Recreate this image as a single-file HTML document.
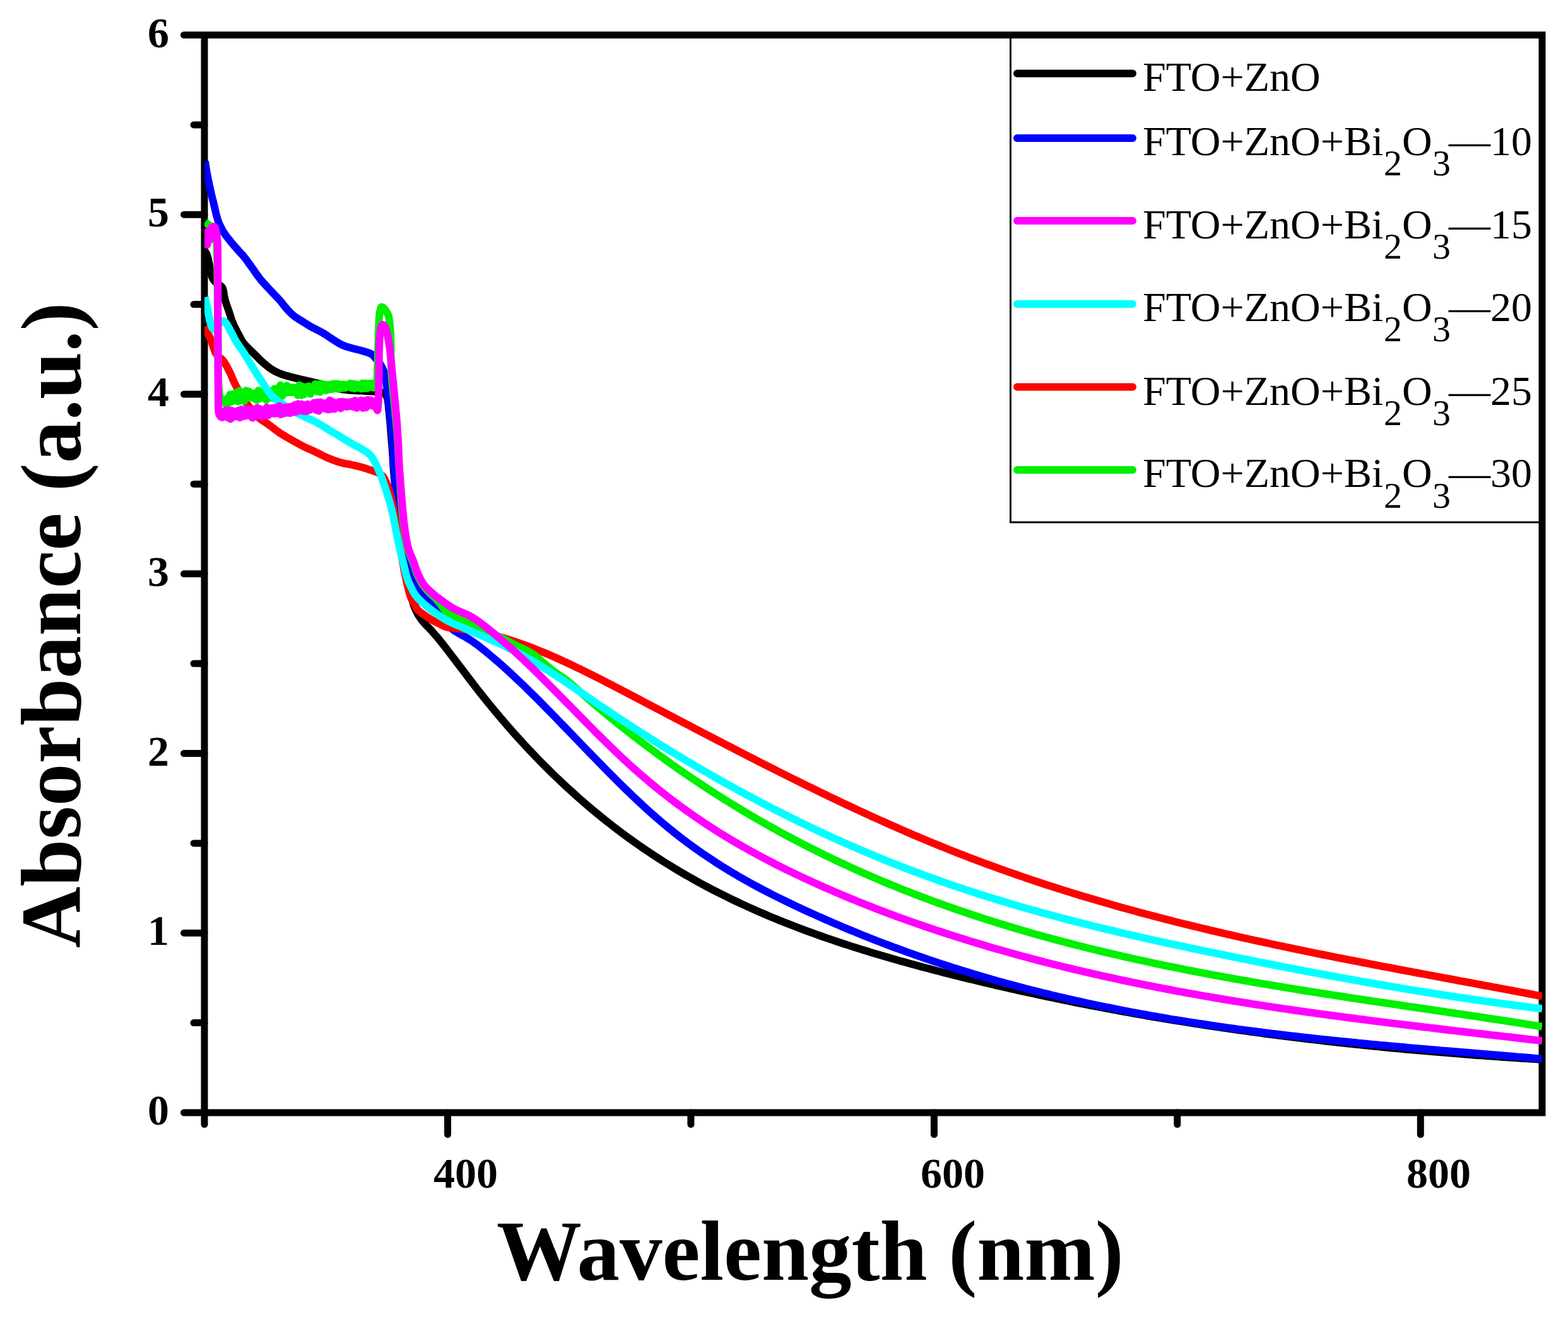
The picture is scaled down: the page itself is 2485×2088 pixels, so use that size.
<!DOCTYPE html>
<html><head><meta charset="utf-8"><title>Absorbance spectra</title>
<style>html,body{margin:0;padding:0;background:#fff;}svg{display:block;}</style>
</head><body>
<svg width="2485" height="2088" viewBox="0 0 2485 2088">
<rect width="2485" height="2088" fill="#fff"/>
<g stroke="#000" stroke-width="11" fill="none">
<rect x="324.0" y="55.5" width="2120.0" height="1708.5" stroke-linejoin="miter"/>
<line x1="324.0" y1="1764.0" x2="291.5" y2="1764.0" stroke-linecap="round"/>
<line x1="324.0" y1="1621.6" x2="307.0" y2="1621.6" stroke-linecap="round"/>
<line x1="324.0" y1="1479.2" x2="291.5" y2="1479.2" stroke-linecap="round"/>
<line x1="324.0" y1="1336.9" x2="307.0" y2="1336.9" stroke-linecap="round"/>
<line x1="324.0" y1="1194.5" x2="291.5" y2="1194.5" stroke-linecap="round"/>
<line x1="324.0" y1="1052.1" x2="307.0" y2="1052.1" stroke-linecap="round"/>
<line x1="324.0" y1="909.8" x2="291.5" y2="909.8" stroke-linecap="round"/>
<line x1="324.0" y1="767.4" x2="307.0" y2="767.4" stroke-linecap="round"/>
<line x1="324.0" y1="625.0" x2="291.5" y2="625.0" stroke-linecap="round"/>
<line x1="324.0" y1="482.6" x2="307.0" y2="482.6" stroke-linecap="round"/>
<line x1="324.0" y1="340.2" x2="291.5" y2="340.2" stroke-linecap="round"/>
<line x1="324.0" y1="197.9" x2="307.0" y2="197.9" stroke-linecap="round"/>
<line x1="324.0" y1="55.5" x2="291.5" y2="55.5" stroke-linecap="round"/>
<line x1="324.0" y1="1764.0" x2="324.0" y2="1782.5" stroke-linecap="round"/>
<line x1="709.5" y1="1764.0" x2="709.5" y2="1798.5" stroke-linecap="round"/>
<line x1="1094.9" y1="1764.0" x2="1094.9" y2="1782.5" stroke-linecap="round"/>
<line x1="1480.4" y1="1764.0" x2="1480.4" y2="1798.5" stroke-linecap="round"/>
<line x1="1865.8" y1="1764.0" x2="1865.8" y2="1782.5" stroke-linecap="round"/>
<line x1="2251.3" y1="1764.0" x2="2251.3" y2="1798.5" stroke-linecap="round"/>
</g>
<defs><clipPath id="pc"><rect x="324.0" y="0.0" width="2120.0" height="2088.0"/></clipPath></defs>
<g clip-path="url(#pc)" fill="none" stroke-linejoin="round" stroke-linecap="butt">
<path d="M324.0,397.0 L324.6,397.8 L325.3,399.0 L326.2,400.4 L327.2,402.0 L328.0,404.0 L328.7,406.4 L329.5,409.1 L330.2,412.1 L330.9,415.1 L331.5,418.0 L332.0,420.8 L332.5,423.7 L332.9,426.6 L333.4,429.4 L334.0,432.0 L334.7,434.5 L335.3,436.8 L336.1,439.0 L337.0,441.1 L338.0,443.0 L339.2,444.7 L340.5,446.1 L342.0,447.4 L343.5,448.7 L345.0,450.0 L346.6,451.2 L348.3,452.3 L349.9,453.4 L351.5,454.9 L352.8,457.0 L353.8,459.9 L354.5,463.4 L355.0,467.2 L355.7,471.2 L356.5,475.0 L357.6,478.7 L358.8,482.4 L360.2,486.1 L361.5,489.9 L362.8,493.6 L364.0,497.3 L365.2,501.0 L366.3,504.7 L367.6,508.3 L369.0,512.0 L370.6,515.7 L372.4,519.4 L374.3,523.1 L376.2,526.7 L378.0,530.0 L379.6,533.0 L381.0,535.8 L382.4,538.5 L384.0,541.2 L386.0,544.0 L388.5,546.9 L391.4,549.9 L394.5,553.0 L397.6,556.0 L400.7,559.0 L403.7,562.0 L406.8,565.1 L409.9,568.2 L412.9,571.2 L416.0,574.0 L419.0,576.7 L422.0,579.2 L425.0,581.6 L428.1,583.9 L431.3,586.0 L434.5,587.9 L437.5,589.5 L440.8,591.0 L444.4,592.5 L448.6,594.0 L453.6,595.6 L459.4,597.1 L465.4,598.7 L471.4,600.1 L477.0,601.5 L482.2,602.7 L487.2,603.9 L492.0,604.9 L496.6,606.0 L501.0,607.0 L505.1,608.0 L508.9,609.0 L512.6,610.0 L516.2,611.0 L520.0,612.0 L523.9,613.0 L527.9,614.1 L532.0,615.2 L536.0,616.2 L540.0,617.0 L544.0,617.6 L548.0,618.1 L552.0,618.4 L556.0,618.7 L560.0,619.0 L564.1,619.3 L568.3,619.5 L572.4,619.6 L576.4,619.8 L580.0,620.0 L583.3,620.2 L586.4,620.4 L589.3,620.6 L591.8,620.8 L594.0,621.0 L595.7,621.1 L597.0,621.2 L598.0,621.3 L598.9,621.4 L600.0,621.5 L601.2,621.6 L602.4,621.8 L603.7,621.9 L604.9,622.2 L606.0,622.5 L607.1,622.9 L608.1,623.3 L609.2,623.8 L610.1,624.5 L611.0,625.5 L611.8,626.7 L612.6,628.0 L613.3,629.7 L613.9,631.6 L614.5,634.0 L615.0,637.0 L615.4,640.4 L615.8,644.2 L616.1,648.1 L616.5,652.0 L616.9,655.9 L617.3,659.9 L617.7,663.9 L618.1,668.0 L618.5,672.0 L618.8,676.0 L619.1,679.9 L619.4,683.8 L619.7,687.8 L620.0,692.0 L620.4,696.4 L620.8,700.9 L621.2,705.5 L621.6,710.2 L622.0,715.0 L622.3,719.8 L622.6,724.6 L622.9,729.5 L623.1,734.6 L623.5,740.0 L623.9,745.7 L624.4,751.6 L624.9,757.8 L625.5,763.9 L626.0,770.0 L626.5,776.0 L627.1,782.0 L627.7,788.0 L628.3,794.0 L629.0,800.0 L629.8,806.0 L630.7,812.0 L631.7,818.0 L632.6,824.0 L633.5,830.0 L634.3,836.0 L635.1,842.1 L635.9,848.1 L636.7,854.1 L637.5,860.0 L638.4,865.7 L639.2,871.4 L640.2,877.0 L641.1,882.5 L642.0,888.0 L643.0,893.5 L643.9,899.0 L644.9,904.4 L645.9,909.7 L646.8,915.0 L647.6,920.2 L648.4,925.2 L649.2,930.2 L650.1,935.2 L651.0,940.0 L652.0,944.8 L653.0,949.5 L654.1,954.1 L655.4,958.6 L657.0,963.0 L658.8,967.2 L660.9,971.3 L663.1,975.2 L665.6,979.1 L668.3,983.0 L671.4,986.8 L674.7,990.5 L678.3,994.1 L681.9,997.8 L685.4,1001.6 L688.6,1005.3 L691.6,1008.7 L694.7,1012.4 L698.2,1016.7 L702.4,1022.0 L707.6,1028.6 L713.5,1036.3 L719.8,1044.6 L726.2,1053.1 L732.4,1061.2 L738.4,1069.1 L744.4,1077.0 L750.4,1084.8 L756.4,1092.6 L762.4,1100.3 L768.4,1107.8 L774.4,1115.2 L780.4,1122.5 L786.4,1129.8 L792.4,1136.9 L798.4,1143.9 L804.4,1150.9 L810.4,1157.7 L816.4,1164.5 L822.4,1171.1 L828.4,1177.7 L834.4,1184.2 L840.4,1190.6 L846.4,1196.9 L852.4,1203.1 L858.4,1209.3 L864.4,1215.3 L870.4,1221.3 L876.4,1227.2 L882.4,1233.0 L888.4,1238.7 L894.4,1244.3 L900.4,1249.9 L906.4,1255.3 L912.4,1260.7 L918.4,1266.1 L924.4,1271.3 L930.4,1276.5 L936.4,1281.6 L942.4,1286.6 L948.4,1291.5 L954.4,1296.4 L960.4,1301.2 L966.4,1305.9 L972.4,1310.6 L978.4,1315.2 L984.4,1319.7 L990.4,1324.2 L996.4,1328.6 L1002.4,1332.9 L1008.4,1337.1 L1014.4,1341.3 L1020.4,1345.5 L1026.4,1349.5 L1032.4,1353.5 L1038.4,1357.5 L1044.4,1361.4 L1050.4,1365.2 L1056.4,1369.0 L1062.4,1372.7 L1068.4,1376.4 L1074.4,1380.0 L1080.4,1383.5 L1086.4,1387.0 L1092.4,1390.4 L1098.4,1393.8 L1104.4,1397.2 L1110.4,1400.5 L1116.4,1403.7 L1122.4,1406.9 L1128.4,1410.1 L1134.4,1413.2 L1140.4,1416.2 L1146.4,1419.2 L1152.4,1422.2 L1158.4,1425.1 L1164.4,1428.0 L1170.4,1430.8 L1176.4,1433.6 L1182.4,1436.4 L1188.4,1439.1 L1194.4,1441.8 L1200.4,1444.5 L1206.4,1447.1 L1212.4,1449.6 L1218.4,1452.2 L1224.4,1454.7 L1230.4,1457.1 L1236.4,1459.6 L1242.4,1462.0 L1248.4,1464.4 L1254.4,1466.7 L1260.4,1469.0 L1266.4,1471.3 L1272.4,1473.6 L1278.4,1475.8 L1284.4,1478.0 L1290.4,1480.2 L1296.4,1482.3 L1302.4,1484.5 L1308.4,1486.6 L1314.4,1488.6 L1320.4,1490.7 L1326.4,1492.7 L1332.4,1494.7 L1338.4,1496.7 L1344.4,1498.6 L1350.4,1500.6 L1356.4,1502.5 L1362.4,1504.4 L1368.4,1506.3 L1374.4,1508.1 L1380.4,1509.9 L1386.4,1511.7 L1392.4,1513.5 L1398.4,1515.3 L1404.4,1517.1 L1410.4,1518.8 L1416.4,1520.5 L1422.4,1522.2 L1428.4,1523.9 L1434.4,1525.6 L1440.4,1527.3 L1446.4,1528.9 L1452.4,1530.5 L1458.4,1532.1 L1464.4,1533.7 L1470.4,1535.3 L1476.4,1536.9 L1482.4,1538.5 L1488.4,1540.0 L1494.4,1541.6 L1500.4,1543.1 L1506.4,1544.6 L1512.4,1546.1 L1518.4,1547.6 L1524.4,1549.1 L1530.4,1550.6 L1536.4,1552.1 L1542.4,1553.5 L1548.4,1555.0 L1554.4,1556.4 L1560.4,1557.8 L1566.4,1559.3 L1572.4,1560.7 L1578.4,1562.1 L1584.4,1563.5 L1590.4,1564.8 L1596.4,1566.2 L1602.4,1567.6 L1608.4,1568.9 L1614.4,1570.3 L1620.4,1571.6 L1626.4,1572.9 L1632.4,1574.2 L1638.4,1575.5 L1644.4,1576.8 L1650.4,1578.1 L1656.4,1579.4 L1662.4,1580.7 L1668.4,1581.9 L1674.4,1583.2 L1680.4,1584.4 L1686.4,1585.6 L1692.4,1586.9 L1698.4,1588.1 L1704.4,1589.3 L1710.4,1590.5 L1716.4,1591.7 L1722.4,1592.8 L1728.4,1594.0 L1734.4,1595.2 L1740.4,1596.3 L1746.4,1597.4 L1752.4,1598.6 L1758.4,1599.7 L1764.4,1600.8 L1770.4,1601.9 L1776.4,1603.0 L1782.4,1604.1 L1788.4,1605.2 L1794.4,1606.3 L1800.4,1607.3 L1806.4,1608.4 L1812.4,1609.4 L1818.4,1610.5 L1824.4,1611.5 L1830.4,1612.5 L1836.4,1613.5 L1842.4,1614.5 L1848.4,1615.5 L1854.4,1616.5 L1860.4,1617.5 L1866.4,1618.5 L1872.4,1619.4 L1878.4,1620.4 L1884.4,1621.3 L1890.4,1622.3 L1896.4,1623.2 L1902.4,1624.1 L1908.4,1625.0 L1914.4,1626.0 L1920.4,1626.9 L1926.4,1627.7 L1932.4,1628.6 L1938.4,1629.5 L1944.4,1630.4 L1950.4,1631.2 L1956.4,1632.1 L1962.4,1633.0 L1968.4,1633.8 L1974.4,1634.6 L1980.4,1635.5 L1986.4,1636.3 L1992.4,1637.1 L1998.4,1637.9 L2004.4,1638.7 L2010.4,1639.5 L2016.4,1640.3 L2022.4,1641.0 L2028.4,1641.8 L2034.4,1642.6 L2040.4,1643.3 L2046.4,1644.1 L2052.4,1644.8 L2058.4,1645.5 L2064.4,1646.3 L2070.4,1647.0 L2076.4,1647.7 L2082.4,1648.4 L2088.4,1649.1 L2094.4,1649.8 L2100.4,1650.5 L2106.4,1651.2 L2112.4,1651.8 L2118.4,1652.5 L2124.4,1653.2 L2130.4,1653.8 L2136.4,1654.5 L2142.4,1655.1 L2148.4,1655.7 L2154.4,1656.4 L2160.4,1657.0 L2166.4,1657.6 L2172.4,1658.2 L2178.4,1658.8 L2184.4,1659.4 L2190.4,1660.0 L2196.4,1660.6 L2202.4,1661.2 L2208.4,1661.7 L2214.4,1662.3 L2220.4,1662.9 L2226.4,1663.4 L2232.4,1664.0 L2238.4,1664.5 L2244.4,1665.0 L2250.4,1665.6 L2256.4,1666.1 L2262.4,1666.6 L2268.4,1667.1 L2274.4,1667.6 L2280.4,1668.1 L2286.4,1668.6 L2292.4,1669.1 L2298.4,1669.6 L2304.4,1670.1 L2310.4,1670.6 L2316.4,1671.0 L2322.4,1671.5 L2328.4,1672.0 L2334.4,1672.4 L2340.4,1672.9 L2346.4,1673.3 L2352.4,1673.8 L2358.4,1674.2 L2364.4,1674.6 L2370.4,1675.1 L2376.4,1675.5 L2382.4,1675.9 L2388.4,1676.3 L2394.4,1676.7 L2400.4,1677.1 L2406.4,1677.5 L2412.4,1677.9 L2418.9,1678.3 L2425.8,1678.7 L2432.4,1679.1 L2438.2,1679.5 L2442.4,1679.8 L2444.6,1679.9 L2445.2,1679.9 L2444.8,1679.9 L2444.2,1679.9 L2444.0,1679.9" stroke="#000000" stroke-width="12"/>
<path d="M325.0,256.0 L325.4,258.6 L326.0,262.3 L326.6,266.6 L327.3,271.0 L328.0,275.0 L328.7,278.5 L329.4,282.0 L330.1,285.4 L330.8,288.7 L331.5,292.0 L332.2,295.3 L332.9,298.6 L333.6,301.8 L334.3,304.9 L335.0,308.0 L335.7,310.9 L336.4,313.7 L337.1,316.4 L337.8,319.2 L338.5,322.0 L339.2,325.0 L339.9,328.0 L340.6,331.0 L341.3,334.0 L342.0,337.0 L342.7,339.9 L343.4,342.7 L344.2,345.4 L345.0,348.2 L346.0,351.0 L347.1,353.9 L348.4,356.8 L349.8,359.7 L351.2,362.5 L352.5,365.0 L353.8,367.2 L355.1,369.2 L356.4,371.1 L357.6,372.8 L358.8,374.4 L359.9,375.9 L360.9,377.2 L361.9,378.5 L362.9,379.7 L364.0,381.0 L365.1,382.3 L366.1,383.6 L367.2,385.0 L368.4,386.4 L369.7,388.0 L371.3,389.8 L373.0,391.8 L374.8,393.8 L376.7,395.9 L378.5,398.0 L380.3,400.0 L382.1,401.9 L383.9,403.8 L385.8,405.9 L387.8,408.4 L390.0,411.2 L392.3,414.4 L394.6,417.7 L397.1,421.1 L399.5,424.5 L401.9,427.9 L404.3,431.4 L406.7,434.9 L409.3,438.4 L412.0,442.0 L415.0,445.6 L418.3,449.3 L421.6,452.9 L425.0,456.5 L428.2,460.0 L431.4,463.4 L434.5,466.6 L437.6,469.8 L440.6,473.0 L443.4,476.0 L445.9,479.0 L448.2,481.9 L450.4,484.7 L452.6,487.4 L454.8,490.0 L457.0,492.4 L459.2,494.7 L461.3,496.9 L463.6,499.0 L466.0,501.0 L468.6,502.9 L471.5,504.8 L474.3,506.6 L477.2,508.3 L480.0,510.0 L482.6,511.6 L484.9,513.2 L487.3,514.7 L489.9,516.3 L492.9,518.0 L496.4,519.9 L500.3,521.9 L504.3,523.9 L508.3,526.0 L512.0,528.0 L515.3,530.0 L518.4,532.0 L521.3,534.1 L524.2,536.1 L527.2,538.0 L530.3,539.9 L533.3,541.9 L536.4,543.7 L539.4,545.5 L542.5,547.0 L545.5,548.3 L548.4,549.3 L551.3,550.2 L554.4,551.1 L557.7,552.0 L561.4,553.0 L565.4,554.0 L569.5,555.0 L573.4,556.0 L576.8,557.0 L579.7,557.9 L582.3,558.7 L584.6,559.5 L586.7,560.4 L588.6,561.4 L590.3,562.6 L591.8,564.0 L593.1,565.4 L594.3,567.0 L595.7,568.6 L597.2,570.2 L598.6,571.9 L600.1,573.7 L601.6,575.7 L603.0,578.0 L604.5,580.6 L606.0,583.3 L607.4,586.4 L608.8,589.9 L610.0,594.0 L611.1,599.0 L612.0,604.7 L612.8,610.7 L613.6,616.9 L614.3,622.9 L614.9,628.6 L615.5,634.3 L616.0,640.0 L616.5,645.7 L617.0,651.4 L617.6,657.1 L618.2,662.8 L618.8,668.5 L619.4,674.2 L620.0,680.0 L620.5,685.9 L621.1,691.9 L621.6,697.9 L622.1,704.0 L622.5,710.0 L622.8,716.0 L623.1,722.0 L623.4,728.0 L623.7,734.0 L624.0,740.0 L624.4,746.0 L624.9,752.0 L625.4,758.0 L626.0,764.0 L626.5,770.0 L627.0,776.0 L627.6,782.0 L628.2,788.0 L628.8,794.0 L629.5,800.0 L630.3,806.0 L631.2,812.0 L632.2,818.0 L633.1,824.0 L634.0,830.0 L634.8,836.2 L635.6,842.6 L636.4,848.9 L637.1,854.8 L638.0,860.0 L639.0,864.4 L640.0,868.3 L641.0,871.7 L642.0,874.8 L643.0,878.0 L643.9,881.0 L644.7,883.8 L645.4,886.4 L646.2,889.1 L647.0,892.0 L647.8,895.1 L648.6,898.4 L649.3,901.6 L650.1,904.9 L651.0,908.0 L651.9,910.9 L652.8,913.8 L653.8,916.6 L654.9,919.3 L656.0,922.0 L657.2,924.7 L658.5,927.3 L659.8,929.8 L661.3,932.4 L663.0,935.0 L664.9,937.6 L667.0,940.3 L669.3,943.0 L671.5,945.6 L673.6,948.0 L675.6,950.2 L677.5,952.2 L679.3,954.1 L681.2,956.0 L683.0,958.0 L684.8,960.2 L686.7,962.4 L688.5,964.6 L690.3,966.8 L692.0,969.0 L693.6,971.0 L695.2,973.0 L696.7,975.0 L698.3,977.0 L700.0,979.0 L701.9,981.2 L703.9,983.4 L705.9,985.7 L708.0,987.9 L710.0,990.0 L711.6,991.8 L712.8,993.5 L714.2,995.1 L716.2,997.0 L719.4,999.4 L724.1,1002.3 L729.9,1005.7 L736.4,1009.3 L743.1,1013.2 L749.4,1017.3 L755.4,1021.6 L761.4,1026.2 L767.4,1031.0 L773.4,1036.0 L779.4,1041.0 L785.4,1046.1 L791.4,1051.3 L797.4,1056.6 L803.4,1062.0 L809.4,1067.5 L815.4,1073.1 L821.4,1078.8 L827.4,1084.5 L833.4,1090.3 L839.4,1096.2 L845.4,1102.1 L851.4,1108.1 L857.4,1114.1 L863.4,1120.2 L869.4,1126.3 L875.4,1132.4 L881.4,1138.6 L887.4,1144.8 L893.4,1151.0 L899.4,1157.2 L905.4,1163.4 L911.4,1169.6 L917.4,1175.9 L923.4,1182.1 L929.4,1188.3 L935.4,1194.5 L941.4,1200.7 L947.4,1206.9 L953.4,1213.0 L959.4,1219.1 L965.4,1225.2 L971.4,1231.2 L977.4,1237.2 L983.4,1243.2 L989.4,1249.1 L995.4,1254.9 L1001.4,1260.7 L1007.4,1266.4 L1013.4,1272.0 L1019.4,1277.6 L1025.4,1283.1 L1031.4,1288.5 L1037.4,1293.8 L1043.4,1299.1 L1049.4,1304.2 L1055.4,1309.2 L1061.4,1314.2 L1067.4,1319.0 L1073.4,1323.8 L1079.4,1328.4 L1085.4,1333.0 L1091.4,1337.5 L1097.4,1341.9 L1103.4,1346.2 L1109.4,1350.4 L1115.4,1354.6 L1121.4,1358.6 L1127.4,1362.6 L1133.4,1366.6 L1139.4,1370.4 L1145.4,1374.2 L1151.4,1377.9 L1157.4,1381.6 L1163.4,1385.1 L1169.4,1388.7 L1175.4,1392.1 L1181.4,1395.5 L1187.4,1398.9 L1193.4,1402.2 L1199.4,1405.4 L1205.4,1408.6 L1211.4,1411.8 L1217.4,1414.9 L1223.4,1418.0 L1229.4,1421.0 L1235.4,1424.0 L1241.4,1426.9 L1247.4,1429.8 L1253.4,1432.7 L1259.4,1435.6 L1265.4,1438.4 L1271.4,1441.2 L1277.4,1444.0 L1283.4,1446.7 L1289.4,1449.4 L1295.4,1452.1 L1301.4,1454.8 L1307.4,1457.5 L1313.4,1460.1 L1319.4,1462.7 L1325.4,1465.3 L1331.4,1467.8 L1337.4,1470.4 L1343.4,1472.9 L1349.4,1475.4 L1355.4,1477.8 L1361.4,1480.3 L1367.4,1482.7 L1373.4,1485.1 L1379.4,1487.5 L1385.4,1489.8 L1391.4,1492.2 L1397.4,1494.5 L1403.4,1496.8 L1409.4,1499.0 L1415.4,1501.3 L1421.4,1503.5 L1427.4,1505.7 L1433.4,1507.9 L1439.4,1510.1 L1445.4,1512.2 L1451.4,1514.3 L1457.4,1516.4 L1463.4,1518.5 L1469.4,1520.6 L1475.4,1522.6 L1481.4,1524.6 L1487.4,1526.6 L1493.4,1528.6 L1499.4,1530.5 L1505.4,1532.5 L1511.4,1534.4 L1517.4,1536.3 L1523.4,1538.2 L1529.4,1540.0 L1535.4,1541.8 L1541.4,1543.7 L1547.4,1545.5 L1553.4,1547.2 L1559.4,1549.0 L1565.4,1550.8 L1571.4,1552.5 L1577.4,1554.2 L1583.4,1555.9 L1589.4,1557.5 L1595.4,1559.2 L1601.4,1560.8 L1607.4,1562.4 L1613.4,1564.0 L1619.4,1565.6 L1625.4,1567.2 L1631.4,1568.7 L1637.4,1570.3 L1643.4,1571.8 L1649.4,1573.3 L1655.4,1574.8 L1661.4,1576.2 L1667.4,1577.7 L1673.4,1579.1 L1679.4,1580.5 L1685.4,1581.9 L1691.4,1583.3 L1697.4,1584.7 L1703.4,1586.0 L1709.4,1587.4 L1715.4,1588.7 L1721.4,1590.0 L1727.4,1591.3 L1733.4,1592.6 L1739.4,1593.8 L1745.4,1595.1 L1751.4,1596.3 L1757.4,1597.5 L1763.4,1598.7 L1769.4,1599.9 L1775.4,1601.1 L1781.4,1602.3 L1787.4,1603.4 L1793.4,1604.6 L1799.4,1605.7 L1805.4,1606.8 L1811.4,1607.9 L1817.4,1609.0 L1823.4,1610.1 L1829.4,1611.1 L1835.4,1612.2 L1841.4,1613.2 L1847.4,1614.2 L1853.4,1615.3 L1859.4,1616.3 L1865.4,1617.2 L1871.4,1618.2 L1877.4,1619.2 L1883.4,1620.1 L1889.4,1621.1 L1895.4,1622.0 L1901.4,1622.9 L1907.4,1623.8 L1913.4,1624.7 L1919.4,1625.6 L1925.4,1626.5 L1931.4,1627.4 L1937.4,1628.2 L1943.4,1629.1 L1949.4,1629.9 L1955.4,1630.8 L1961.4,1631.6 L1967.4,1632.4 L1973.4,1633.2 L1979.4,1634.0 L1985.4,1634.8 L1991.4,1635.5 L1997.4,1636.3 L2003.4,1637.1 L2009.4,1637.8 L2015.4,1638.6 L2021.4,1639.3 L2027.4,1640.0 L2033.4,1640.7 L2039.4,1641.4 L2045.4,1642.1 L2051.4,1642.8 L2057.4,1643.5 L2063.4,1644.2 L2069.4,1644.9 L2075.4,1645.5 L2081.4,1646.2 L2087.4,1646.9 L2093.4,1647.5 L2099.4,1648.1 L2105.4,1648.8 L2111.4,1649.4 L2117.4,1650.0 L2123.4,1650.6 L2129.4,1651.2 L2135.4,1651.8 L2141.4,1652.4 L2147.4,1653.0 L2153.4,1653.6 L2159.4,1654.2 L2165.4,1654.8 L2171.4,1655.4 L2177.4,1655.9 L2183.4,1656.5 L2189.4,1657.1 L2195.4,1657.6 L2201.4,1658.2 L2207.4,1658.7 L2213.4,1659.3 L2219.4,1659.8 L2225.4,1660.3 L2231.4,1660.9 L2237.4,1661.4 L2243.4,1661.9 L2249.4,1662.5 L2255.4,1663.0 L2261.4,1663.5 L2267.4,1664.0 L2273.4,1664.5 L2279.4,1665.0 L2285.4,1665.6 L2291.4,1666.1 L2297.4,1666.6 L2303.4,1667.1 L2309.4,1667.6 L2315.4,1668.1 L2321.4,1668.6 L2327.4,1669.1 L2333.4,1669.6 L2339.4,1670.1 L2345.4,1670.6 L2351.4,1671.1 L2357.4,1671.6 L2363.4,1672.1 L2369.4,1672.6 L2375.4,1673.1 L2381.4,1673.6 L2387.4,1674.0 L2393.4,1674.5 L2399.4,1675.0 L2405.6,1675.6 L2412.1,1676.1 L2418.5,1676.6 L2424.4,1677.1 L2429.4,1677.5 L2433.5,1677.9 L2437.0,1678.2 L2440.0,1678.4 L2442.3,1678.6 L2444.0,1678.8" stroke="#0000ff" stroke-width="12"/>
<path d="M324.0,518.0 L324.7,519.4 L325.6,521.3 L326.8,523.5 L327.9,525.8 L329.0,528.0 L330.0,530.0 L331.0,531.9 L332.1,533.9 L333.1,535.9 L334.0,538.0 L334.9,540.3 L335.7,542.8 L336.4,545.2 L337.2,547.7 L338.0,550.0 L338.8,552.2 L339.6,554.3 L340.3,556.4 L341.1,558.3 L342.0,560.0 L343.0,561.5 L344.0,562.8 L345.0,564.0 L346.0,565.1 L347.0,566.0 L347.8,566.7 L348.6,567.2 L349.3,567.6 L350.1,568.2 L351.0,569.0 L352.0,570.1 L353.1,571.3 L354.3,572.7 L355.5,574.4 L356.9,576.5 L358.4,579.1 L360.1,582.1 L361.8,585.4 L363.5,588.7 L365.0,591.8 L366.3,594.7 L367.5,597.6 L368.7,600.5 L369.9,603.3 L371.1,606.0 L372.4,608.7 L373.7,611.3 L375.1,613.9 L376.5,616.4 L378.0,619.0 L379.5,621.6 L381.1,624.2 L382.7,626.8 L384.3,629.4 L386.0,632.0 L387.8,634.6 L389.6,637.3 L391.4,640.0 L393.2,642.6 L395.0,645.0 L396.7,647.2 L398.3,649.3 L399.8,651.3 L401.4,653.2 L403.0,655.0 L404.5,656.7 L405.9,658.2 L407.3,659.7 L408.9,661.3 L411.0,663.0 L413.5,664.9 L416.5,666.9 L419.6,669.0 L422.9,671.2 L426.2,673.5 L429.5,675.9 L432.8,678.5 L436.3,681.2 L439.8,683.8 L443.4,686.3 L447.1,688.7 L450.9,691.0 L454.8,693.3 L458.7,695.5 L462.5,697.7 L466.3,699.9 L470.1,702.0 L473.9,704.0 L477.7,706.1 L481.5,708.0 L485.3,709.8 L489.1,711.6 L493.0,713.3 L496.8,715.0 L500.6,716.8 L504.4,718.6 L508.2,720.6 L512.0,722.5 L515.8,724.3 L519.6,726.0 L523.4,727.6 L527.2,729.1 L531.1,730.5 L534.9,731.8 L538.7,733.0 L542.5,734.0 L546.4,734.8 L550.3,735.5 L554.1,736.2 L557.7,737.0 L561.2,737.8 L564.6,738.6 L567.9,739.3 L571.2,740.2 L574.3,741.0 L577.4,741.9 L580.3,742.8 L583.2,743.8 L586.0,744.8 L588.6,745.7 L591.1,746.5 L593.5,747.3 L595.8,748.1 L598.0,749.0 L600.0,750.0 L601.8,751.1 L603.5,752.3 L605.1,753.6 L606.6,755.2 L608.0,757.0 L609.3,759.1 L610.5,761.4 L611.7,764.0 L612.8,766.9 L614.0,770.0 L615.2,773.5 L616.4,777.3 L617.7,781.3 L618.9,785.6 L620.0,790.0 L621.0,794.5 L622.0,799.2 L623.0,804.0 L624.0,809.3 L625.0,815.0 L626.1,821.3 L627.3,828.0 L628.5,835.2 L629.7,842.5 L631.0,850.0 L632.3,857.8 L633.7,865.9 L635.2,874.1 L636.6,882.2 L638.0,890.0 L639.4,897.5 L640.8,905.0 L642.3,912.2 L643.7,918.9 L645.0,925.0 L646.3,930.4 L647.5,935.3 L648.6,939.6 L649.8,943.5 L651.0,947.0 L652.2,949.9 L653.4,952.3 L654.6,954.2 L655.8,956.1 L657.0,958.0 L658.0,960.0 L658.8,961.8 L659.6,963.6 L660.8,965.5 L662.7,967.6 L665.4,970.0 L668.7,972.5 L672.4,975.1 L676.1,977.7 L679.7,980.0 L683.2,982.1 L686.7,984.1 L690.1,985.9 L693.5,987.6 L696.7,989.2 L699.4,990.6 L701.6,991.8 L703.8,992.9 L706.6,993.9 L710.3,994.8 L715.3,995.6 L721.1,996.2 L727.5,996.8 L734.0,997.5 L740.3,998.3 L746.3,999.3 L752.3,1000.4 L758.3,1001.5 L764.3,1002.8 L770.3,1004.1 L776.3,1005.6 L782.3,1007.1 L788.3,1008.7 L794.3,1010.4 L800.3,1012.2 L806.3,1014.0 L812.3,1016.0 L818.3,1018.0 L824.3,1020.1 L830.3,1022.2 L836.3,1024.4 L842.3,1026.7 L848.3,1029.1 L854.3,1031.5 L860.3,1033.9 L866.3,1036.4 L872.3,1039.0 L878.3,1041.6 L884.3,1044.3 L890.3,1047.0 L896.3,1049.7 L902.3,1052.5 L908.3,1055.4 L914.3,1058.3 L920.3,1061.2 L926.3,1064.1 L932.3,1067.1 L938.3,1070.1 L944.3,1073.1 L950.3,1076.1 L956.3,1079.2 L962.3,1082.3 L968.3,1085.4 L974.3,1088.5 L980.3,1091.6 L986.3,1094.8 L992.3,1097.9 L998.3,1101.1 L1004.3,1104.2 L1010.3,1107.4 L1016.3,1110.5 L1022.3,1113.7 L1028.3,1116.8 L1034.3,1120.0 L1040.3,1123.1 L1046.3,1126.3 L1052.3,1129.4 L1058.3,1132.6 L1064.3,1135.7 L1070.3,1138.9 L1076.3,1142.0 L1082.3,1145.1 L1088.3,1148.3 L1094.3,1151.4 L1100.3,1154.6 L1106.3,1157.7 L1112.3,1160.8 L1118.3,1164.0 L1124.3,1167.1 L1130.3,1170.2 L1136.3,1173.3 L1142.3,1176.4 L1148.3,1179.5 L1154.3,1182.6 L1160.3,1185.7 L1166.3,1188.8 L1172.3,1191.9 L1178.3,1195.0 L1184.3,1198.1 L1190.3,1201.2 L1196.3,1204.2 L1202.3,1207.3 L1208.3,1210.3 L1214.3,1213.4 L1220.3,1216.4 L1226.3,1219.4 L1232.3,1222.5 L1238.3,1225.5 L1244.3,1228.5 L1250.3,1231.5 L1256.3,1234.5 L1262.3,1237.4 L1268.3,1240.4 L1274.3,1243.4 L1280.3,1246.3 L1286.3,1249.2 L1292.3,1252.2 L1298.3,1255.1 L1304.3,1258.0 L1310.3,1260.9 L1316.3,1263.8 L1322.3,1266.7 L1328.3,1269.5 L1334.3,1272.4 L1340.3,1275.2 L1346.3,1278.0 L1352.3,1280.8 L1358.3,1283.6 L1364.3,1286.4 L1370.3,1289.2 L1376.3,1291.9 L1382.3,1294.7 L1388.3,1297.4 L1394.3,1300.1 L1400.3,1302.8 L1406.3,1305.5 L1412.3,1308.2 L1418.3,1310.8 L1424.3,1313.5 L1430.3,1316.1 L1436.3,1318.7 L1442.3,1321.3 L1448.3,1323.9 L1454.3,1326.4 L1460.3,1329.0 L1466.3,1331.5 L1472.3,1334.0 L1478.3,1336.5 L1484.3,1338.9 L1490.3,1341.4 L1496.3,1343.8 L1502.3,1346.2 L1508.3,1348.6 L1514.3,1351.0 L1520.3,1353.4 L1526.3,1355.7 L1532.3,1358.0 L1538.3,1360.3 L1544.3,1362.6 L1550.3,1364.9 L1556.3,1367.1 L1562.3,1369.3 L1568.3,1371.5 L1574.3,1373.7 L1580.3,1375.9 L1586.3,1378.1 L1592.3,1380.2 L1598.3,1382.3 L1604.3,1384.4 L1610.3,1386.5 L1616.3,1388.6 L1622.3,1390.7 L1628.3,1392.7 L1634.3,1394.7 L1640.3,1396.7 L1646.3,1398.7 L1652.3,1400.7 L1658.3,1402.7 L1664.3,1404.6 L1670.3,1406.5 L1676.3,1408.5 L1682.3,1410.4 L1688.3,1412.2 L1694.3,1414.1 L1700.3,1416.0 L1706.3,1417.8 L1712.3,1419.7 L1718.3,1421.5 L1724.3,1423.3 L1730.3,1425.1 L1736.3,1426.8 L1742.3,1428.6 L1748.3,1430.3 L1754.3,1432.1 L1760.3,1433.8 L1766.3,1435.5 L1772.3,1437.2 L1778.3,1438.9 L1784.3,1440.5 L1790.3,1442.2 L1796.3,1443.8 L1802.3,1445.5 L1808.3,1447.1 L1814.3,1448.7 L1820.3,1450.3 L1826.3,1451.9 L1832.3,1453.4 L1838.3,1455.0 L1844.3,1456.6 L1850.3,1458.1 L1856.3,1459.6 L1862.3,1461.2 L1868.3,1462.7 L1874.3,1464.2 L1880.3,1465.6 L1886.3,1467.1 L1892.3,1468.6 L1898.3,1470.0 L1904.3,1471.5 L1910.3,1472.9 L1916.3,1474.4 L1922.3,1475.8 L1928.3,1477.2 L1934.3,1478.6 L1940.3,1480.0 L1946.3,1481.4 L1952.3,1482.7 L1958.3,1484.1 L1964.3,1485.5 L1970.3,1486.8 L1976.3,1488.1 L1982.3,1489.5 L1988.3,1490.8 L1994.3,1492.1 L2000.3,1493.4 L2006.3,1494.7 L2012.3,1496.0 L2018.3,1497.3 L2024.3,1498.6 L2030.3,1499.9 L2036.3,1501.1 L2042.3,1502.4 L2048.3,1503.7 L2054.3,1504.9 L2060.3,1506.2 L2066.3,1507.4 L2072.3,1508.6 L2078.3,1509.9 L2084.3,1511.1 L2090.3,1512.3 L2096.3,1513.5 L2102.3,1514.7 L2108.3,1515.9 L2114.3,1517.1 L2120.3,1518.3 L2126.3,1519.5 L2132.3,1520.7 L2138.3,1521.8 L2144.3,1523.0 L2150.3,1524.2 L2156.3,1525.3 L2162.3,1526.5 L2168.3,1527.7 L2174.3,1528.8 L2180.3,1530.0 L2186.3,1531.1 L2192.3,1532.3 L2198.3,1533.4 L2204.3,1534.5 L2210.3,1535.7 L2216.3,1536.8 L2222.3,1538.0 L2228.3,1539.1 L2234.3,1540.2 L2240.3,1541.3 L2246.3,1542.5 L2252.3,1543.6 L2258.3,1544.7 L2264.3,1545.8 L2270.3,1546.9 L2276.3,1548.1 L2282.3,1549.2 L2288.3,1550.3 L2294.3,1551.4 L2300.3,1552.5 L2306.3,1553.7 L2312.3,1554.8 L2318.3,1555.9 L2324.3,1557.0 L2330.3,1558.1 L2336.3,1559.2 L2342.3,1560.3 L2348.3,1561.5 L2354.3,1562.6 L2360.3,1563.7 L2366.3,1564.8 L2372.3,1565.9 L2378.3,1567.1 L2384.3,1568.2 L2390.3,1569.3 L2396.4,1570.5 L2402.6,1571.6 L2408.8,1572.8 L2414.7,1573.9 L2420.3,1575.0 L2425.8,1576.0 L2431.4,1577.1 L2436.5,1578.1 L2440.9,1578.9 L2444.0,1579.5" stroke="#ff0000" stroke-width="12"/>
<path d="M325.0,352.0 L325.9,352.7 L327.1,353.8 L328.6,354.9 L330.0,356.0 L331.5,356.9 L333.0,357.6 L334.5,358.6 L336.0,360.0 L337.4,361.6 L338.7,363.4 L339.9,366.0 L341.0,370.0 L341.9,374.5 L342.8,379.4 L343.4,387.1 L344.0,400.0 L344.4,420.1 L344.6,445.6 L344.8,473.4 L345.0,500.0 L345.2,526.6 L345.4,554.4 L345.6,579.9 L346.0,600.0 L346.5,612.9 L347.2,620.8 L348.0,625.7 L349.0,630.0 L350.4,633.7 L352.2,635.9 L353.9,637.1 L355.0,638.0 L357.0,639.8 L359.5,632.1 L362.0,639.4 L364.5,625.4 L367.0,636.9 L369.5,624.7 L372.0,632.1 L374.5,622.5 L377.0,636.6 L379.5,619.8 L382.0,635.0 L384.5,624.2 L387.0,635.9 L389.5,619.3 L392.0,631.1 L394.5,620.5 L397.0,629.9 L399.5,623.6 L402.0,631.7 L404.5,623.3 L407.0,634.5 L409.5,619.1 L412.0,631.9 L414.5,622.3 L417.0,630.4 L419.5,623.8 L422.0,634.2 L424.5,620.5 L427.0,630.1 L429.5,621.3 L432.0,631.2 L434.5,616.6 L437.0,630.5 L439.5,615.4 L442.0,626.8 L444.5,610.6 L447.0,627.9 L449.5,614.2 L452.0,623.2 L454.5,611.3 L457.0,622.1 L459.5,614.0 L462.0,622.1 L464.5,614.3 L467.0,622.1 L469.5,614.5 L472.0,626.7 L474.5,610.6 L477.0,626.7 L479.5,612.8 L482.0,625.3 L484.5,613.4 L487.0,621.8 L489.5,612.3 L492.0,624.7 L494.5,614.0 L497.0,619.6 L499.5,608.8 L502.0,620.5 L504.5,609.3 L507.0,621.6 L509.5,608.3 L512.0,618.6 L514.5,611.2 L517.0,619.1 L519.5,609.8 L522.0,617.6 L524.5,609.2 L527.0,617.0 L529.5,608.2 L532.0,615.5 L534.5,608.5 L537.0,617.1 L539.5,609.4 L542.0,615.6 L544.5,609.2 L547.0,615.1 L549.5,610.2 L552.0,613.6 L554.5,607.8 L557.0,615.1 L559.5,608.3 L562.0,616.1 L564.5,609.0 L567.0,614.8 L569.5,609.9 L572.0,616.3 L574.5,607.6 L577.0,616.1 L579.5,607.4 L582.0,615.8 L584.5,608.1 L587.0,614.2 L589.5,607.8 L592.0,614.7 L594.5,609.0 L597.5,610.0 L597.7,603.2 L598.0,593.6 L598.3,582.4 L598.7,570.8 L599.0,560.0 L599.3,549.5 L599.6,538.6 L599.8,527.8 L600.1,518.1 L600.5,510.0 L600.9,503.8 L601.4,499.0 L601.9,495.3 L602.5,492.4 L603.0,490.0 L603.5,488.2 L604.1,487.2 L604.6,486.8 L605.3,486.8 L606.0,487.0 L606.9,487.4 L607.9,488.2 L608.9,489.3 L610.0,490.6 L611.0,492.0 L612.0,493.5 L613.1,495.2 L614.2,497.0 L615.2,499.3 L616.0,502.0 L616.7,505.3 L617.3,509.1 L617.7,513.3 L618.1,517.6 L618.5,522.0 L618.8,526.4 L619.1,530.9 L619.2,535.5 L619.4,540.2 L619.5,545.0 L619.5,549.8 L619.5,554.6 L619.4,559.5 L619.4,564.6 L619.5,570.0 L619.7,575.7 L619.9,581.6 L620.2,587.8 L620.6,593.9 L621.0,600.0 L621.5,605.9 L622.1,611.8 L622.7,617.6 L623.3,623.7 L624.0,630.0 L624.7,636.7 L625.4,643.6 L626.1,650.8 L626.8,657.9 L627.5,665.0 L628.1,671.9 L628.8,678.8 L629.4,685.6 L630.0,692.7 L630.5,700.0 L630.9,707.4 L631.3,714.7 L631.6,722.3 L632.0,730.6 L632.5,740.0 L633.2,751.1 L634.0,763.8 L634.8,776.8 L635.7,789.3 L636.5,800.0 L637.2,808.7 L637.9,816.2 L638.6,822.8 L639.3,828.9 L640.0,835.0 L640.8,841.1 L641.5,846.9 L642.3,852.4 L643.1,857.4 L644.0,862.0 L644.9,865.9 L645.9,869.2 L646.9,872.2 L647.9,875.0 L649.0,878.0 L650.1,881.0 L651.3,884.0 L652.6,886.9 L653.8,889.9 L655.0,893.0 L656.2,896.3 L657.3,899.7 L658.4,903.1 L659.6,906.6 L661.0,910.0 L662.6,913.4 L664.2,916.9 L666.0,920.4 L668.0,923.8 L670.0,927.0 L672.2,930.1 L674.7,933.1 L677.2,935.9 L679.7,938.6 L682.0,941.0 L684.2,943.1 L686.2,944.9 L688.2,946.6 L690.2,948.2 L692.0,950.0 L693.7,951.9 L695.3,953.9 L696.9,956.0 L698.4,958.0 L700.0,960.0 L701.4,962.0 L702.5,963.9 L703.7,965.9 L705.5,967.9 L708.0,970.0 L711.6,972.3 L716.0,974.7 L720.9,977.2 L725.9,979.7 L730.7,982.0 L735.2,984.2 L739.6,986.2 L744.0,988.3 L748.6,990.3 L753.4,992.5 L758.6,994.8 L764.1,997.3 L769.6,999.8 L775.0,1002.2 L780.0,1004.5 L784.5,1006.6 L788.7,1008.6 L792.7,1010.5 L796.5,1012.3 L800.0,1014.0 L803.0,1015.5 L805.4,1016.8 L807.8,1018.1 L810.6,1019.6 L814.3,1021.5 L819.3,1024.0 L825.4,1026.9 L831.7,1030.0 L837.8,1033.1 L842.9,1036.0 L846.7,1038.5 L849.6,1040.7 L852.1,1042.9 L854.8,1045.3 L858.0,1048.0 L862.0,1051.3 L866.4,1055.0 L871.0,1058.8 L875.6,1062.6 L880.0,1066.0 L884.0,1068.9 L887.7,1071.3 L891.4,1073.7 L895.4,1076.5 L900.0,1080.0 L905.4,1084.5 L911.3,1089.7 L917.5,1095.3 L923.8,1100.9 L930.0,1106.3 L936.0,1111.5 L942.0,1116.6 L948.0,1121.6 L954.0,1126.6 L960.0,1131.6 L966.0,1136.5 L972.0,1141.4 L978.0,1146.2 L984.0,1151.0 L990.0,1155.8 L996.0,1160.5 L1002.0,1165.2 L1008.0,1169.8 L1014.0,1174.4 L1020.0,1179.0 L1026.0,1183.5 L1032.0,1188.0 L1038.0,1192.4 L1044.0,1196.8 L1050.0,1201.2 L1056.0,1205.5 L1062.0,1209.8 L1068.0,1214.1 L1074.0,1218.3 L1080.0,1222.5 L1086.0,1226.6 L1092.0,1230.7 L1098.0,1234.8 L1104.0,1238.8 L1110.0,1242.8 L1116.0,1246.8 L1122.0,1250.7 L1128.0,1254.6 L1134.0,1258.5 L1140.0,1262.3 L1146.0,1266.1 L1152.0,1269.8 L1158.0,1273.5 L1164.0,1277.2 L1170.0,1280.9 L1176.0,1284.5 L1182.0,1288.1 L1188.0,1291.6 L1194.0,1295.2 L1200.0,1298.6 L1206.0,1302.1 L1212.0,1305.5 L1218.0,1308.9 L1224.0,1312.3 L1230.0,1315.6 L1236.0,1318.9 L1242.0,1322.2 L1248.0,1325.4 L1254.0,1328.6 L1260.0,1331.8 L1266.0,1334.9 L1272.0,1338.0 L1278.0,1341.1 L1284.0,1344.1 L1290.0,1347.2 L1296.0,1350.2 L1302.0,1353.1 L1308.0,1356.1 L1314.0,1359.0 L1320.0,1361.9 L1326.0,1364.7 L1332.0,1367.5 L1338.0,1370.3 L1344.0,1373.1 L1350.0,1375.9 L1356.0,1378.6 L1362.0,1381.3 L1368.0,1383.9 L1374.0,1386.6 L1380.0,1389.2 L1386.0,1391.8 L1392.0,1394.3 L1398.0,1396.9 L1404.0,1399.4 L1410.0,1401.9 L1416.0,1404.3 L1422.0,1406.8 L1428.0,1409.2 L1434.0,1411.6 L1440.0,1413.9 L1446.0,1416.3 L1452.0,1418.6 L1458.0,1420.9 L1464.0,1423.2 L1470.0,1425.4 L1476.0,1427.6 L1482.0,1429.8 L1488.0,1432.0 L1494.0,1434.2 L1500.0,1436.3 L1506.0,1438.4 L1512.0,1440.5 L1518.0,1442.6 L1524.0,1444.7 L1530.0,1446.7 L1536.0,1448.7 L1542.0,1450.7 L1548.0,1452.7 L1554.0,1454.7 L1560.0,1456.6 L1566.0,1458.5 L1572.0,1460.4 L1578.0,1462.3 L1584.0,1464.2 L1590.0,1466.0 L1596.0,1467.8 L1602.0,1469.7 L1608.0,1471.5 L1614.0,1473.2 L1620.0,1475.0 L1626.0,1476.7 L1632.0,1478.5 L1638.0,1480.2 L1644.0,1481.9 L1650.0,1483.5 L1656.0,1485.2 L1662.0,1486.8 L1668.0,1488.5 L1674.0,1490.1 L1680.0,1491.7 L1686.0,1493.3 L1692.0,1494.9 L1698.0,1496.4 L1704.0,1498.0 L1710.0,1499.5 L1716.0,1501.0 L1722.0,1502.5 L1728.0,1504.0 L1734.0,1505.5 L1740.0,1506.9 L1746.0,1508.4 L1752.0,1509.8 L1758.0,1511.2 L1764.0,1512.6 L1770.0,1514.0 L1776.0,1515.4 L1782.0,1516.8 L1788.0,1518.1 L1794.0,1519.5 L1800.0,1520.8 L1806.0,1522.1 L1812.0,1523.4 L1818.0,1524.7 L1824.0,1526.0 L1830.0,1527.3 L1836.0,1528.6 L1842.0,1529.8 L1848.0,1531.1 L1854.0,1532.3 L1860.0,1533.5 L1866.0,1534.7 L1872.0,1535.9 L1878.0,1537.1 L1884.0,1538.3 L1890.0,1539.5 L1896.0,1540.6 L1902.0,1541.8 L1908.0,1542.9 L1914.0,1544.1 L1920.0,1545.2 L1926.0,1546.3 L1932.0,1547.4 L1938.0,1548.5 L1944.0,1549.6 L1950.0,1550.7 L1956.0,1551.8 L1962.0,1552.9 L1968.0,1553.9 L1974.0,1555.0 L1980.0,1556.0 L1986.0,1557.1 L1992.0,1558.1 L1998.0,1559.1 L2004.0,1560.2 L2010.0,1561.2 L2016.0,1562.2 L2022.0,1563.2 L2028.0,1564.2 L2034.0,1565.2 L2040.0,1566.2 L2046.0,1567.1 L2052.0,1568.1 L2058.0,1569.1 L2064.0,1570.0 L2070.0,1571.0 L2076.0,1571.9 L2082.0,1572.9 L2088.0,1573.8 L2094.0,1574.8 L2100.0,1575.7 L2106.0,1576.6 L2112.0,1577.6 L2118.0,1578.5 L2124.0,1579.4 L2130.0,1580.3 L2136.0,1581.3 L2142.0,1582.2 L2148.0,1583.1 L2154.0,1584.0 L2160.0,1584.9 L2166.0,1585.8 L2172.0,1586.7 L2178.0,1587.6 L2184.0,1588.5 L2190.0,1589.4 L2196.0,1590.3 L2202.0,1591.1 L2208.0,1592.0 L2214.0,1592.9 L2220.0,1593.8 L2226.0,1594.7 L2232.0,1595.6 L2238.0,1596.5 L2244.0,1597.3 L2250.0,1598.2 L2256.0,1599.1 L2262.0,1600.0 L2268.0,1600.9 L2274.0,1601.8 L2280.0,1602.6 L2286.0,1603.5 L2292.0,1604.4 L2298.0,1605.3 L2304.0,1606.2 L2310.0,1607.1 L2316.0,1608.0 L2322.0,1608.9 L2328.0,1609.8 L2334.0,1610.6 L2340.0,1611.5 L2346.0,1612.4 L2352.0,1613.3 L2358.0,1614.3 L2364.0,1615.2 L2370.0,1616.1 L2376.0,1617.0 L2382.0,1617.9 L2388.0,1618.8 L2394.0,1619.7 L2400.0,1620.7 L2406.3,1621.6 L2412.8,1622.7 L2419.2,1623.7 L2425.0,1624.6 L2430.0,1625.4 L2434.0,1626.0 L2437.4,1626.5 L2440.2,1627.0 L2442.4,1627.3 L2444.0,1627.6" stroke="#00f000" stroke-width="12"/>
<path d="M325.0,471.0 L325.6,473.6 L326.3,477.3 L327.2,481.6 L328.2,486.0 L329.0,490.0 L329.7,493.8 L330.4,497.6 L331.1,501.4 L331.8,504.9 L332.5,508.0 L333.2,510.8 L333.9,513.3 L334.6,515.5 L335.3,517.4 L336.0,519.0 L336.7,520.3 L337.5,521.3 L338.2,521.9 L339.1,522.2 L340.0,522.0 L341.1,521.2 L342.3,519.9 L343.5,518.2 L344.8,516.5 L346.0,515.0 L347.2,513.6 L348.4,512.1 L349.6,510.7 L350.8,509.6 L352.0,509.0 L353.2,508.9 L354.4,509.1 L355.5,509.7 L356.7,510.7 L358.0,512.0 L359.3,513.7 L360.6,515.8 L361.9,518.3 L363.4,521.0 L365.0,524.0 L366.8,527.4 L368.8,531.2 L370.9,535.3 L373.1,539.3 L375.2,543.0 L377.3,546.3 L379.4,549.3 L381.6,552.3 L383.8,555.5 L386.2,559.0 L388.7,563.0 L391.4,567.4 L394.1,572.0 L396.9,576.6 L399.6,581.0 L402.3,585.3 L405.0,589.7 L407.7,593.9 L410.4,598.1 L412.9,602.0 L415.4,605.8 L417.8,609.5 L420.1,613.0 L422.3,616.2 L424.3,619.0 L425.9,621.3 L427.2,623.1 L428.3,624.7 L429.6,626.3 L431.3,628.0 L433.3,629.9 L435.4,631.8 L437.8,633.8 L440.5,635.9 L443.4,638.0 L446.8,640.3 L450.5,642.7 L454.5,645.2 L458.5,647.7 L462.5,650.0 L466.4,652.2 L470.3,654.4 L474.2,656.5 L478.1,658.6 L481.9,660.5 L485.7,662.3 L489.4,663.9 L493.1,665.5 L496.9,667.1 L500.6,669.0 L504.4,671.1 L508.2,673.4 L512.0,675.8 L515.8,678.2 L519.6,680.5 L523.4,682.8 L527.2,685.1 L531.1,687.4 L534.9,689.7 L538.7,692.0 L542.5,694.3 L546.4,696.7 L550.3,699.0 L554.1,701.3 L557.7,703.4 L561.2,705.4 L564.7,707.2 L568.1,709.0 L571.3,710.8 L574.3,712.5 L577.0,714.1 L579.6,715.6 L581.9,717.2 L584.1,718.9 L586.3,721.0 L588.4,723.5 L590.3,726.2 L592.1,729.1 L593.9,732.4 L595.8,736.0 L597.7,740.0 L599.6,744.2 L601.6,748.8 L603.5,753.7 L605.4,758.7 L607.4,764.2 L609.5,770.2 L611.5,776.4 L613.4,782.2 L615.0,787.3 L616.3,791.5 L617.4,795.1 L618.3,798.3 L619.1,801.5 L620.0,805.0 L620.9,808.6 L621.7,812.1 L622.5,815.8 L623.4,820.0 L624.4,825.0 L625.7,831.3 L627.1,838.6 L628.6,846.4 L630.1,853.7 L631.4,860.0 L632.5,865.0 L633.4,869.3 L634.3,873.0 L635.2,876.5 L636.0,880.0 L636.8,883.4 L637.6,886.5 L638.4,889.5 L639.1,892.6 L640.0,896.0 L640.9,899.8 L641.9,904.0 L642.9,908.2 L643.9,912.3 L645.0,916.0 L646.1,919.2 L647.3,922.1 L648.5,924.8 L649.7,927.4 L651.0,930.0 L652.3,932.7 L653.6,935.4 L654.9,938.0 L656.4,940.5 L658.0,943.0 L659.7,945.3 L661.4,947.4 L663.4,949.5 L665.5,951.6 L668.0,954.0 L670.9,956.6 L674.0,959.3 L677.4,962.1 L681.1,965.1 L685.0,968.0 L689.1,971.0 L693.4,974.2 L698.0,977.4 L702.9,980.5 L708.0,983.5 L713.6,986.3 L719.5,989.1 L725.7,991.7 L731.9,994.3 L738.0,997.0 L744.0,999.6 L750.0,1002.2 L756.0,1004.7 L762.0,1007.3 L768.0,1009.9 L774.0,1012.6 L780.0,1015.2 L786.0,1017.8 L792.0,1020.6 L798.0,1023.4 L804.0,1026.3 L810.0,1029.3 L816.0,1032.3 L822.0,1035.5 L828.0,1038.7 L834.0,1042.1 L840.0,1045.6 L846.0,1049.1 L852.0,1052.7 L858.0,1056.4 L864.0,1060.2 L870.0,1064.0 L876.0,1067.9 L882.0,1071.8 L888.0,1075.8 L894.0,1079.8 L900.0,1083.8 L906.0,1087.9 L912.0,1092.0 L918.0,1096.1 L924.0,1100.2 L930.0,1104.3 L936.0,1108.4 L942.0,1112.5 L948.0,1116.6 L954.0,1120.7 L960.0,1124.7 L966.0,1128.7 L972.0,1132.8 L978.0,1136.7 L984.0,1140.7 L990.0,1144.6 L996.0,1148.6 L1002.0,1152.5 L1008.0,1156.3 L1014.0,1160.2 L1020.0,1164.0 L1026.0,1167.8 L1032.0,1171.6 L1038.0,1175.4 L1044.0,1179.2 L1050.0,1182.9 L1056.0,1186.6 L1062.0,1190.3 L1068.0,1193.9 L1074.0,1197.6 L1080.0,1201.2 L1086.0,1204.8 L1092.0,1208.4 L1098.0,1211.9 L1104.0,1215.4 L1110.0,1219.0 L1116.0,1222.4 L1122.0,1225.9 L1128.0,1229.4 L1134.0,1232.8 L1140.0,1236.2 L1146.0,1239.6 L1152.0,1242.9 L1158.0,1246.3 L1164.0,1249.6 L1170.0,1252.9 L1176.0,1256.1 L1182.0,1259.4 L1188.0,1262.6 L1194.0,1265.8 L1200.0,1269.0 L1206.0,1272.2 L1212.0,1275.3 L1218.0,1278.4 L1224.0,1281.5 L1230.0,1284.6 L1236.0,1287.6 L1242.0,1290.7 L1248.0,1293.7 L1254.0,1296.7 L1260.0,1299.6 L1266.0,1302.6 L1272.0,1305.5 L1278.0,1308.4 L1284.0,1311.3 L1290.0,1314.1 L1296.0,1317.0 L1302.0,1319.8 L1308.0,1322.6 L1314.0,1325.3 L1320.0,1328.1 L1326.0,1330.8 L1332.0,1333.5 L1338.0,1336.2 L1344.0,1338.8 L1350.0,1341.5 L1356.0,1344.1 L1362.0,1346.7 L1368.0,1349.3 L1374.0,1351.8 L1380.0,1354.3 L1386.0,1356.8 L1392.0,1359.3 L1398.0,1361.8 L1404.0,1364.2 L1410.0,1366.6 L1416.0,1369.0 L1422.0,1371.4 L1428.0,1373.7 L1434.0,1376.1 L1440.0,1378.4 L1446.0,1380.7 L1452.0,1382.9 L1458.0,1385.2 L1464.0,1387.4 L1470.0,1389.6 L1476.0,1391.7 L1482.0,1393.9 L1488.0,1396.0 L1494.0,1398.1 L1500.0,1400.2 L1506.0,1402.3 L1512.0,1404.4 L1518.0,1406.4 L1524.0,1408.4 L1530.0,1410.4 L1536.0,1412.4 L1542.0,1414.3 L1548.0,1416.3 L1554.0,1418.2 L1560.0,1420.1 L1566.0,1422.0 L1572.0,1423.8 L1578.0,1425.7 L1584.0,1427.5 L1590.0,1429.3 L1596.0,1431.1 L1602.0,1432.9 L1608.0,1434.7 L1614.0,1436.4 L1620.0,1438.2 L1626.0,1439.9 L1632.0,1441.6 L1638.0,1443.3 L1644.0,1445.0 L1650.0,1446.6 L1656.0,1448.3 L1662.0,1449.9 L1668.0,1451.5 L1674.0,1453.1 L1680.0,1454.7 L1686.0,1456.3 L1692.0,1457.9 L1698.0,1459.4 L1704.0,1461.0 L1710.0,1462.5 L1716.0,1464.0 L1722.0,1465.5 L1728.0,1467.0 L1734.0,1468.5 L1740.0,1470.0 L1746.0,1471.4 L1752.0,1472.9 L1758.0,1474.3 L1764.0,1475.7 L1770.0,1477.1 L1776.0,1478.6 L1782.0,1480.0 L1788.0,1481.3 L1794.0,1482.7 L1800.0,1484.1 L1806.0,1485.5 L1812.0,1486.8 L1818.0,1488.2 L1824.0,1489.5 L1830.0,1490.8 L1836.0,1492.1 L1842.0,1493.5 L1848.0,1494.8 L1854.0,1496.1 L1860.0,1497.4 L1866.0,1498.7 L1872.0,1499.9 L1878.0,1501.2 L1884.0,1502.5 L1890.0,1503.8 L1896.0,1505.0 L1902.0,1506.3 L1908.0,1507.5 L1914.0,1508.8 L1920.0,1510.0 L1926.0,1511.2 L1932.0,1512.5 L1938.0,1513.7 L1944.0,1514.9 L1950.0,1516.2 L1956.0,1517.4 L1962.0,1518.6 L1968.0,1519.8 L1974.0,1521.0 L1980.0,1522.2 L1986.0,1523.4 L1992.0,1524.6 L1998.0,1525.8 L2004.0,1527.0 L2010.0,1528.2 L2016.0,1529.4 L2022.0,1530.5 L2028.0,1531.7 L2034.0,1532.9 L2040.0,1534.0 L2046.0,1535.2 L2052.0,1536.3 L2058.0,1537.5 L2064.0,1538.6 L2070.0,1539.8 L2076.0,1540.9 L2082.0,1542.0 L2088.0,1543.2 L2094.0,1544.3 L2100.0,1545.4 L2106.0,1546.5 L2112.0,1547.6 L2118.0,1548.7 L2124.0,1549.8 L2130.0,1550.9 L2136.0,1552.0 L2142.0,1553.1 L2148.0,1554.2 L2154.0,1555.2 L2160.0,1556.3 L2166.0,1557.3 L2172.0,1558.4 L2178.0,1559.4 L2184.0,1560.5 L2190.0,1561.5 L2196.0,1562.5 L2202.0,1563.6 L2208.0,1564.6 L2214.0,1565.6 L2220.0,1566.6 L2226.0,1567.6 L2232.0,1568.6 L2238.0,1569.6 L2244.0,1570.6 L2250.0,1571.5 L2256.0,1572.5 L2262.0,1573.5 L2268.0,1574.4 L2274.0,1575.4 L2280.0,1576.3 L2286.0,1577.2 L2292.0,1578.2 L2298.0,1579.1 L2304.0,1580.0 L2310.0,1580.9 L2316.0,1581.8 L2322.0,1582.7 L2328.0,1583.6 L2334.0,1584.5 L2340.0,1585.4 L2346.0,1586.2 L2352.0,1587.1 L2358.0,1587.9 L2364.0,1588.8 L2370.0,1589.6 L2376.0,1590.4 L2382.0,1591.3 L2388.0,1592.1 L2394.1,1592.9 L2400.2,1593.7 L2406.3,1594.5 L2412.3,1595.3 L2418.0,1596.0 L2423.9,1596.8 L2429.9,1597.5 L2435.7,1598.2 L2440.5,1598.8 L2444.0,1599.3" stroke="#00ffff" stroke-width="12"/>
<path d="M324.5,392.0 L324.9,388.0 L325.4,382.1 L326.0,376.7 L326.5,374.0 L327.0,376.1 L327.5,381.2 L328.0,386.3 L328.5,388.0 L329.0,384.2 L329.5,377.0 L330.0,369.8 L330.5,366.0 L331.0,367.7 L331.5,372.8 L332.0,378.0 L332.5,380.0 L333.0,376.9 L333.5,370.7 L334.0,364.4 L334.5,361.0 L335.1,362.2 L335.7,366.1 L336.4,370.2 L337.0,372.0 L337.6,370.0 L338.2,365.8 L338.9,361.4 L339.5,359.0 L340.1,359.3 L340.8,361.1 L341.4,363.6 L342.0,366.0 L342.6,368.1 L343.1,370.2 L343.6,372.8 L344.0,376.0 L344.3,379.3 L344.6,382.7 L344.8,387.5 L345.0,395.0 L345.1,405.2 L345.1,417.4 L345.2,432.2 L345.2,450.0 L345.3,472.1 L345.3,497.8 L345.4,524.6 L345.5,550.0 L345.6,574.9 L345.7,600.2 L345.8,622.9 L346.0,640.0 L346.2,649.7 L346.5,653.8 L346.9,655.3 L347.5,657.0 L348.5,659.2 L349.8,660.6 L351.1,661.4 L352.0,662.0 L355.0,659.8 L357.5,650.1 L360.0,661.6 L362.5,650.2 L365.0,664.4 L367.5,651.0 L370.0,661.5 L372.5,653.4 L375.0,660.0 L377.5,650.8 L380.0,662.1 L382.5,648.9 L385.0,660.2 L387.5,652.8 L390.0,659.5 L392.5,647.8 L395.0,658.8 L397.5,650.2 L400.0,662.6 L402.5,652.2 L405.0,660.3 L407.5,646.5 L410.0,657.7 L412.5,648.3 L415.0,661.0 L417.5,650.1 L420.0,658.3 L422.5,646.1 L425.0,658.6 L427.5,647.2 L430.0,655.5 L432.5,646.6 L435.0,656.0 L437.5,646.2 L440.0,655.4 L442.5,643.7 L445.0,657.2 L447.5,646.1 L450.0,655.6 L452.5,645.8 L455.0,654.4 L457.5,644.9 L460.0,655.1 L462.5,644.3 L465.0,653.5 L467.5,641.8 L470.0,652.7 L472.5,640.3 L475.0,650.9 L477.5,640.7 L480.0,651.8 L482.5,641.9 L485.0,652.3 L487.5,640.7 L490.0,650.5 L492.5,643.0 L495.0,648.0 L497.5,638.4 L500.0,649.8 L502.5,637.9 L505.0,651.6 L507.5,637.4 L510.0,645.9 L512.5,638.9 L515.0,648.2 L517.5,638.7 L520.0,649.5 L522.5,634.6 L525.0,648.7 L527.5,637.0 L530.0,648.4 L532.5,638.7 L535.0,645.5 L537.5,636.9 L540.0,647.5 L542.5,636.7 L545.0,644.2 L547.5,637.3 L550.0,645.0 L552.5,637.5 L555.0,644.1 L557.5,636.8 L560.0,645.3 L562.5,635.0 L565.0,646.8 L567.5,636.1 L570.0,645.0 L572.5,634.8 L575.0,646.9 L577.5,635.2 L580.0,646.2 L582.5,633.9 L585.0,642.5 L587.5,634.2 L590.0,643.4 L592.5,635.9 L595.0,645.6 L596.5,644.0 L596.8,645.3 L597.2,647.5 L597.6,649.5 L598.1,650.7 L598.5,650.0 L598.8,647.1 L599.2,642.5 L599.5,636.8 L599.8,630.8 L600.0,625.0 L600.2,619.6 L600.3,614.1 L600.3,608.3 L600.4,602.0 L600.5,595.0 L600.6,586.7 L600.6,577.3 L600.7,567.5 L600.8,558.2 L601.0,550.0 L601.3,543.0 L601.6,536.6 L602.1,530.9 L602.5,526.0 L603.0,522.0 L603.5,519.1 L604.1,517.2 L604.7,516.1 L605.3,515.4 L606.0,515.0 L606.7,514.8 L607.5,515.0 L608.4,515.7 L609.2,516.7 L610.0,518.0 L610.8,519.6 L611.6,521.5 L612.4,523.8 L613.2,526.6 L614.0,530.0 L614.8,534.0 L615.6,538.6 L616.4,543.7 L617.2,549.2 L618.0,555.0 L618.7,561.4 L619.4,568.3 L620.1,575.5 L620.8,582.8 L621.5,590.0 L622.2,596.9 L622.9,603.8 L623.6,610.6 L624.3,617.7 L625.0,625.0 L625.7,632.8 L626.5,640.9 L627.2,649.1 L628.0,657.2 L628.6,665.0 L629.2,672.2 L629.7,679.1 L630.1,685.9 L630.6,692.8 L631.0,700.0 L631.4,707.4 L631.6,714.7 L631.9,722.3 L632.3,730.6 L632.8,740.0 L633.6,751.1 L634.5,763.8 L635.6,776.8 L636.6,789.3 L637.5,800.0 L638.3,808.8 L639.0,816.3 L639.6,822.9 L640.3,829.0 L641.0,835.0 L641.8,840.8 L642.6,846.2 L643.4,851.2 L644.2,855.8 L645.0,860.0 L645.8,863.7 L646.5,866.8 L647.3,869.6 L648.1,872.2 L649.0,875.0 L650.1,877.8 L651.2,880.5 L652.4,883.2 L653.7,886.0 L654.9,889.0 L656.1,892.3 L657.2,895.9 L658.4,899.6 L659.7,903.3 L661.2,907.0 L662.8,910.7 L664.6,914.4 L666.4,918.1 L668.4,921.7 L670.5,925.0 L672.7,928.0 L675.1,930.8 L677.6,933.5 L680.3,936.0 L683.0,938.6 L685.8,941.1 L688.8,943.6 L691.8,946.0 L695.1,948.4 L698.6,951.0 L702.3,953.7 L706.1,956.5 L710.2,959.3 L714.6,962.2 L719.4,965.0 L724.8,967.7 L730.7,970.3 L737.0,972.9 L743.3,975.8 L749.4,979.2 L755.4,983.1 L761.4,987.4 L767.4,992.0 L773.4,996.8 L779.4,1001.6 L785.4,1006.5 L791.4,1011.6 L797.4,1016.7 L803.4,1022.0 L809.4,1027.3 L815.4,1032.7 L821.4,1038.3 L827.4,1043.9 L833.4,1049.6 L839.4,1055.3 L845.4,1061.1 L851.4,1067.0 L857.4,1072.9 L863.4,1078.9 L869.4,1084.9 L875.4,1090.9 L881.4,1097.0 L887.4,1103.1 L893.4,1109.2 L899.4,1115.3 L905.4,1121.4 L911.4,1127.5 L917.4,1133.7 L923.4,1139.8 L929.4,1145.8 L935.4,1151.9 L941.4,1157.9 L947.4,1164.0 L953.4,1169.9 L959.4,1175.8 L965.4,1181.7 L971.4,1187.5 L977.4,1193.3 L983.4,1199.0 L989.4,1204.6 L995.4,1210.1 L1001.4,1215.6 L1007.4,1220.9 L1013.4,1226.2 L1019.4,1231.4 L1025.4,1236.5 L1031.4,1241.6 L1037.4,1246.5 L1043.4,1251.4 L1049.4,1256.2 L1055.4,1260.9 L1061.4,1265.6 L1067.4,1270.1 L1073.4,1274.6 L1079.4,1279.0 L1085.4,1283.4 L1091.4,1287.7 L1097.4,1291.9 L1103.4,1296.1 L1109.4,1300.1 L1115.4,1304.2 L1121.4,1308.1 L1127.4,1312.0 L1133.4,1315.9 L1139.4,1319.7 L1145.4,1323.4 L1151.4,1327.1 L1157.4,1330.7 L1163.4,1334.2 L1169.4,1337.7 L1175.4,1341.2 L1181.4,1344.6 L1187.4,1348.0 L1193.4,1351.3 L1199.4,1354.6 L1205.4,1357.8 L1211.4,1361.0 L1217.4,1364.1 L1223.4,1367.2 L1229.4,1370.3 L1235.4,1373.3 L1241.4,1376.3 L1247.4,1379.3 L1253.4,1382.2 L1259.4,1385.1 L1265.4,1387.9 L1271.4,1390.8 L1277.4,1393.6 L1283.4,1396.3 L1289.4,1399.1 L1295.4,1401.8 L1301.4,1404.5 L1307.4,1407.2 L1313.4,1409.8 L1319.4,1412.4 L1325.4,1415.0 L1331.4,1417.6 L1337.4,1420.1 L1343.4,1422.6 L1349.4,1425.1 L1355.4,1427.5 L1361.4,1430.0 L1367.4,1432.4 L1373.4,1434.8 L1379.4,1437.1 L1385.4,1439.5 L1391.4,1441.8 L1397.4,1444.1 L1403.4,1446.4 L1409.4,1448.6 L1415.4,1450.9 L1421.4,1453.1 L1427.4,1455.3 L1433.4,1457.4 L1439.4,1459.6 L1445.4,1461.7 L1451.4,1463.8 L1457.4,1465.9 L1463.4,1468.0 L1469.4,1470.0 L1475.4,1472.0 L1481.4,1474.1 L1487.4,1476.0 L1493.4,1478.0 L1499.4,1480.0 L1505.4,1481.9 L1511.4,1483.8 L1517.4,1485.8 L1523.4,1487.6 L1529.4,1489.5 L1535.4,1491.4 L1541.4,1493.2 L1547.4,1495.0 L1553.4,1496.8 L1559.4,1498.6 L1565.4,1500.4 L1571.4,1502.2 L1577.4,1503.9 L1583.4,1505.6 L1589.4,1507.3 L1595.4,1509.0 L1601.4,1510.7 L1607.4,1512.4 L1613.4,1514.0 L1619.4,1515.7 L1625.4,1517.3 L1631.4,1518.9 L1637.4,1520.5 L1643.4,1522.1 L1649.4,1523.6 L1655.4,1525.2 L1661.4,1526.7 L1667.4,1528.2 L1673.4,1529.7 L1679.4,1531.2 L1685.4,1532.7 L1691.4,1534.2 L1697.4,1535.6 L1703.4,1537.1 L1709.4,1538.5 L1715.4,1539.9 L1721.4,1541.3 L1727.4,1542.7 L1733.4,1544.1 L1739.4,1545.4 L1745.4,1546.8 L1751.4,1548.1 L1757.4,1549.4 L1763.4,1550.7 L1769.4,1552.0 L1775.4,1553.3 L1781.4,1554.6 L1787.4,1555.9 L1793.4,1557.1 L1799.4,1558.3 L1805.4,1559.6 L1811.4,1560.8 L1817.4,1562.0 L1823.4,1563.2 L1829.4,1564.4 L1835.4,1565.6 L1841.4,1566.7 L1847.4,1567.9 L1853.4,1569.0 L1859.4,1570.1 L1865.4,1571.3 L1871.4,1572.4 L1877.4,1573.5 L1883.4,1574.6 L1889.4,1575.7 L1895.4,1576.7 L1901.4,1577.8 L1907.4,1578.8 L1913.4,1579.9 L1919.4,1580.9 L1925.4,1582.0 L1931.4,1583.0 L1937.4,1584.0 L1943.4,1585.0 L1949.4,1586.0 L1955.4,1587.0 L1961.4,1587.9 L1967.4,1588.9 L1973.4,1589.9 L1979.4,1590.8 L1985.4,1591.8 L1991.4,1592.7 L1997.4,1593.6 L2003.4,1594.6 L2009.4,1595.5 L2015.4,1596.4 L2021.4,1597.3 L2027.4,1598.2 L2033.4,1599.1 L2039.4,1599.9 L2045.4,1600.8 L2051.4,1601.7 L2057.4,1602.5 L2063.4,1603.4 L2069.4,1604.2 L2075.4,1605.1 L2081.4,1605.9 L2087.4,1606.8 L2093.4,1607.6 L2099.4,1608.4 L2105.4,1609.2 L2111.4,1610.0 L2117.4,1610.8 L2123.4,1611.6 L2129.4,1612.4 L2135.4,1613.2 L2141.4,1614.0 L2147.4,1614.8 L2153.4,1615.6 L2159.4,1616.3 L2165.4,1617.1 L2171.4,1617.9 L2177.4,1618.6 L2183.4,1619.4 L2189.4,1620.1 L2195.4,1620.9 L2201.4,1621.6 L2207.4,1622.4 L2213.4,1623.1 L2219.4,1623.8 L2225.4,1624.6 L2231.4,1625.3 L2237.4,1626.0 L2243.4,1626.7 L2249.4,1627.5 L2255.4,1628.2 L2261.4,1628.9 L2267.4,1629.6 L2273.4,1630.3 L2279.4,1631.0 L2285.4,1631.8 L2291.4,1632.5 L2297.4,1633.2 L2303.4,1633.9 L2309.4,1634.6 L2315.4,1635.3 L2321.4,1636.0 L2327.4,1636.7 L2333.4,1637.4 L2339.4,1638.1 L2345.4,1638.8 L2351.4,1639.5 L2357.4,1640.2 L2363.4,1640.9 L2369.4,1641.6 L2375.4,1642.3 L2381.4,1642.9 L2387.4,1643.6 L2393.4,1644.3 L2399.4,1645.0 L2405.6,1645.8 L2412.1,1646.5 L2418.5,1647.3 L2424.4,1648.0 L2429.4,1648.5 L2433.5,1649.0 L2437.0,1649.4 L2440.0,1649.8 L2442.3,1650.0 L2444.0,1650.3" stroke="#ff00ff" stroke-width="12"/>
</g>
<g font-family="Liberation Serif, Times New Roman, serif" font-weight="bold" font-size="68" fill="#000">
<text x="268" y="1783.0" text-anchor="end">0</text>
<text x="268" y="1498.2" text-anchor="end">1</text>
<text x="268" y="1213.5" text-anchor="end">2</text>
<text x="268" y="928.8" text-anchor="end">3</text>
<text x="268" y="644.0" text-anchor="end">4</text>
<text x="268" y="359.2" text-anchor="end">5</text>
<text x="268" y="74.5" text-anchor="end">6</text>
<text x="687" y="1883">400</text>
<text x="1459" y="1883">600</text>
<text x="2229" y="1883">800</text>
</g>
<text x="787" y="2029" font-family="Liberation Serif, Times New Roman, serif" font-weight="bold" font-size="135">Wavelength (nm)</text>
<text transform="translate(127,1503) rotate(-90)" x="0" y="0" font-family="Liberation Serif, Times New Roman, serif" font-weight="bold" font-size="135">Absorbance (a.u.)</text>
<path d="M1601.5,55.5 V828.0 H2444.0" stroke="#000" stroke-width="3" fill="none"/>
<g font-family="Liberation Serif, Times New Roman, serif" font-size="66" fill="#000">
<line x1="1612" y1="116.5" x2="1795" y2="116.5" stroke="#000" stroke-width="12" stroke-linecap="round"/>
<text x="1811" y="144.3">FTO+ZnO</text>
<line x1="1612" y1="219.0" x2="1795" y2="219.0" stroke="#0000ff" stroke-width="12" stroke-linecap="round"/>
<text x="1811" y="245.5">FTO+ZnO+Bi</text>
<text x="2193" y="277.9" font-size="58">2</text>
<text x="2222" y="245.5">O</text>
<text x="2270" y="277.9" font-size="58">3</text>
<text x="2296" y="245.5">—10</text>
<line x1="1612" y1="350.0" x2="1795" y2="350.0" stroke="#ff00ff" stroke-width="12" stroke-linecap="round"/>
<text x="1811" y="377.6">FTO+ZnO+Bi</text>
<text x="2193" y="410.0" font-size="58">2</text>
<text x="2222" y="377.6">O</text>
<text x="2270" y="410.0" font-size="58">3</text>
<text x="2296" y="377.6">—15</text>
<line x1="1612" y1="482.0" x2="1795" y2="482.0" stroke="#00ffff" stroke-width="12" stroke-linecap="round"/>
<text x="1811" y="509.0">FTO+ZnO+Bi</text>
<text x="2193" y="541.4" font-size="58">2</text>
<text x="2222" y="509.0">O</text>
<text x="2270" y="541.4" font-size="58">3</text>
<text x="2296" y="509.0">—20</text>
<line x1="1612" y1="613.6" x2="1795" y2="613.6" stroke="#ff0000" stroke-width="12" stroke-linecap="round"/>
<text x="1811" y="641.5">FTO+ZnO+Bi</text>
<text x="2193" y="673.9" font-size="58">2</text>
<text x="2222" y="641.5">O</text>
<text x="2270" y="673.9" font-size="58">3</text>
<text x="2296" y="641.5">—25</text>
<line x1="1612" y1="745.0" x2="1795" y2="745.0" stroke="#00ee00" stroke-width="12" stroke-linecap="round"/>
<text x="1811" y="772.3">FTO+ZnO+Bi</text>
<text x="2193" y="804.7" font-size="58">2</text>
<text x="2222" y="772.3">O</text>
<text x="2270" y="804.7" font-size="58">3</text>
<text x="2296" y="772.3">—30</text>
</g>
</svg>
</body></html>
